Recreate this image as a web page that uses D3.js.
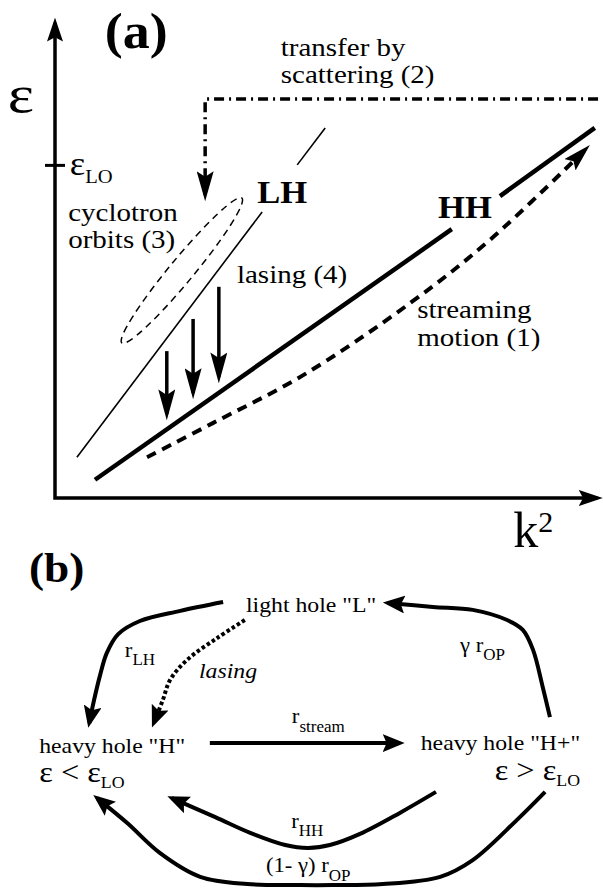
<!DOCTYPE html>
<html>
<head>
<meta charset="utf-8">
<script src="https://cdn.jsdelivr.net/npm/d3@7"></script>
<style>
  html, body { margin: 0; padding: 0; background: #fff; }
  svg { display: block; }
</style>
</head>
<body>
<svg id="canvas"></svg>
<script>
// (a) sketch of the bands, k^2 along x and energy along y, both in arbitrary units 0..10
const lightHole = [[[0.40, 0.85], [3.78, 5.96]], [[4.42, 6.94], [4.93, 7.71]]];
const heavyHole = [[[0.73, 0.38], [7.24, 5.60]], [[8.12, 6.29], [9.85, 7.71]]];
const streaming = [[1.68, 0.85], [2.88, 1.56], [4.53, 2.56], [6.48, 4.06], [7.94, 5.38], [9.67, 7.25]];
const scattering = [[9.91, 8.31], [2.74, 8.31], [2.74, 6.31]];
const lasingDrops = [[2.04, 3.06, 1.75], [2.52, 3.73, 2.19], [2.99, 4.40, 2.52]]; // k, from, to
const orbit = [[1.22, 3.23], [3.41, 6.25]];
const epsLO = 6.94;

// (b) rate diagram, grid units 0..10 both ways
const rLH = [[3.70, 1.28], [2.99, 1.55], [2.32, 1.86], [1.96, 2.26], [1.77, 2.84], [1.66, 3.51], [1.56, 4.27], [1.48, 4.97]];
const rLasing = [[4.06, 1.83], [3.60, 2.38], [3.10, 3.05], [2.82, 3.66], [2.70, 4.27], [2.55, 4.97]];
const rStream = [[3.48, 5.58], [6.63, 5.58]];
const rOPup = [[9.12, 4.79], [9.00, 3.87], [8.84, 2.74], [8.67, 2.13], [8.41, 1.83], [7.84, 1.52], [7.18, 1.43], [6.43, 1.31]];
const rHH = [[7.23, 7.07], [6.63, 7.71], [5.97, 8.35], [5.47, 8.69], [5.11, 8.78], [4.73, 8.69], [4.15, 8.32], [3.57, 7.84], [2.85, 7.26]];
const rOPdown = [[9.04, 7.07], [8.57, 7.93], [7.84, 9.15], [7.30, 9.66], [6.35, 9.88], [5.52, 9.91], [4.98, 9.91], [4.10, 9.88], [3.32, 9.66], [2.65, 8.93], [2.11, 8.02], [1.61, 7.26]];

const W = 603, H = 888;
const FONT = '"Liberation Serif", "Times New Roman", Times, serif';
const svg = d3.select('#canvas').attr('width', W).attr('height', H);

const x = d3.scaleLinear().domain([0, 10]).range([55, 603]);
const y = d3.scaleLinear().domain([0, 10]).range([498, 18]);
const bx = d3.scaleLinear().domain([0, 10]).range([0, 603]);
const by = d3.scaleLinear().domain([0, 10]).range([560, 888]);

const defs = svg.append('defs');
function arrowHead(id, len, half, sw) {
  const ext = (sw / 2) * len / half;
  defs.append('marker')
    .attr('id', id)
    .attr('markerUnits', 'userSpaceOnUse')
    .attr('viewBox', `0 ${-half} ${len} ${2 * half}`)
    .attr('markerWidth', len)
    .attr('markerHeight', 2 * half)
    .attr('refX', len - ext)
    .attr('refY', 0)
    .attr('orient', 'auto-start-reverse')
    .append('path')
    .attr('d', `M0,${-half}L${len},0L0,${half}L${len * 0.18},0Z`)
    .attr('fill', '#000');
}
arrowHead('axisHead', 24, 8, 3.5);
arrowHead('dropHead', 31, 8.5, 3.5);
arrowHead('scatterHead', 30, 8.5, 3.5);
arrowHead('streamHead', 28, 8, 4);
arrowHead('bHead', 22, 9, 4);

function label(px, py, runs, size, o = {}) {
  const t = svg.append('text')
    .attr('transform', `translate(${px},${py}) scale(${o.sx || 1.08},1)`)
    .attr('font-family', FONT)
    .style('font-family', FONT)
    .style('white-space', 'pre')
    .attr('fill', '#000')
    .attr('font-size', size)
    .attr('text-anchor', o.anchor || 'start')
    .attr('font-weight', o.bold ? 'bold' : null)
    .attr('font-style', o.italic ? 'italic' : null);
  let cur = 0;
  runs.forEach(r => {
    const [str, off = 0, k = 1] = typeof r === 'string' ? [r] : r;
    t.append('tspan')
      .attr('dy', off - cur)
      .attr('font-size', size * k)
      .text(str);
    cur = off;
  });
  return t;
}

const lineA = d3.line().x(d => x(d[0])).y(d => y(d[1]));
const curveA = d3.line().x(d => x(d[0])).y(d => y(d[1])).curve(d3.curveCatmullRom);
const curveB = d3.line().x(d => bx(d[0])).y(d => by(d[1])).curve(d3.curveCatmullRom);

// ---------- panel (a) ----------
svg.append('path')
  .attr('d', lineA([[0, 9.9], [0, 0], [9.9, 0]]))
  .attr('fill', 'none').attr('stroke', '#000').attr('stroke-width', 3.5)
  .attr('marker-start', 'url(#axisHead)').attr('marker-end', 'url(#axisHead)');

svg.append('g')
  .attr('transform', `translate(${x(0) + 10},0)`)
  .call(d3.axisLeft(y).tickValues([epsLO]).tickSize(20).tickFormat(''))
  .call(g => g.select('.domain').remove())
  .selectAll('line').attr('stroke', '#000').attr('stroke-width', 3);

svg.append('g').selectAll('path').data(lightHole).join('path')
  .attr('d', lineA).attr('fill', 'none').attr('stroke', '#000').attr('stroke-width', 1.6);

svg.append('g').selectAll('path').data(heavyHole).join('path')
  .attr('d', lineA).attr('fill', 'none').attr('stroke', '#000').attr('stroke-width', 4.5);

svg.append('path')
  .attr('d', curveA(streaming))
  .attr('fill', 'none').attr('stroke', '#000').attr('stroke-width', 4)
  .attr('stroke-dasharray', '10,7')
  .attr('marker-end', 'url(#streamHead)');

svg.append('path')
  .attr('d', lineA(scattering))
  .attr('fill', 'none').attr('stroke', '#000').attr('stroke-width', 3.5)
  .attr('stroke-dasharray', '10,5,2,5')
  .attr('marker-end', 'url(#scatterHead)');

svg.append('g').selectAll('path').data(lasingDrops).join('path')
  .attr('d', d => lineA([[d[0], d[1]], [d[0], d[2]]]))
  .attr('stroke', '#000').attr('stroke-width', 3.5)
  .attr('marker-end', 'url(#dropHead)');

{
  const p1 = [x(orbit[0][0]), y(orbit[0][1])];
  const p2 = [x(orbit[1][0]), y(orbit[1][1])];
  const ang = Math.atan2(p2[1] - p1[1], p2[0] - p1[0]) * 180 / Math.PI;
  svg.append('ellipse')
    .attr('transform', `translate(${(p1[0] + p2[0]) / 2},${(p1[1] + p2[1]) / 2}) rotate(${ang})`)
    .attr('rx', Math.hypot(p2[0] - p1[0], p2[1] - p1[1]) / 2)
    .attr('ry', 12)
    .attr('fill', 'none').attr('stroke', '#000').attr('stroke-width', 1.5)
    .attr('stroke-dasharray', '7,5');
}

label(x(0.91), y(9.375), ['(a)'], 50, { bold: true });
label(x(-0.86), y(8.04), ['ε'], 52, { sx: 1.2 });
label(x(0.27), y(6.73), ['ε', ['LO', 8, 0.56]], 34);
label(x(4.12), y(9.21), ['transfer by'], 25, { sx: 1.16 });
label(x(4.12), y(8.65), ['scattering (2)'], 25, { sx: 1.16 });
label(x(0.24), y(5.77), ['cyclotron'], 25, { sx: 1.16 });
label(x(0.24), y(5.21), ['orbits (3)'], 25, { sx: 1.16 });
label(x(3.69), y(6.15), ['LH'], 32, { bold: true });
label(x(6.99), y(5.83), ['HH'], 32, { bold: true });
label(x(3.32), y(4.48), ['lasing (4)'], 25, { sx: 1.16 });
label(x(6.61), y(3.75), ['streaming'], 25, { sx: 1.16 });
label(x(6.61), y(3.17), ['motion (1)'], 25, { sx: 1.16 });
label(x(8.36), y(-1.02), ['k', ['2', -15, 0.6]], 50, { sx: 1 });

// ---------- panel (b) ----------
[rLH, rOPup, rHH, rOPdown].forEach(pts => {
  svg.append('path')
    .attr('d', curveB(pts))
    .attr('fill', 'none').attr('stroke', '#000').attr('stroke-width', 4)
    .attr('marker-end', 'url(#bHead)');
});
svg.append('path')
  .attr('d', curveB(rLasing))
  .attr('fill', 'none').attr('stroke', '#000').attr('stroke-width', 4)
  .attr('stroke-dasharray', '3.5,2.5')
  .attr('marker-end', 'url(#bHead)');
svg.append('path')
  .attr('d', curveB(rStream))
  .attr('fill', 'none').attr('stroke', '#000').attr('stroke-width', 4)
  .attr('marker-end', 'url(#bHead)');

label(bx(0.48), by(0.67), ['(b)'], 42, { bold: true });
label(bx(4.08), by(1.59), ['light hole "L"'], 22);
label(bx(0.65), by(5.88), ['heavy hole "H"'], 22);
label(bx(0.65), by(6.77), ['ε < ε', ['LO', 6, 0.55]], 30);
label(bx(9.62), by(5.79), ['heavy hole "H+"'], 22, { anchor: 'end' });
label(bx(9.62), by(6.71), ['ε > ε', ['LO', 6, 0.55]], 30, { anchor: 'end' });
label(bx(2.07), by(2.96), ['r', ['LH', 8, 0.75]], 21);
label(bx(3.30), by(3.60), ['lasing'], 22, { italic: true });
label(bx(4.84), by(4.97), ['r', ['stream', 9, 0.75]], 21);
label(bx(7.63), by(2.80), ['γ r', ['OP', 8, 0.75]], 21);
label(bx(4.83), by(8.17), ['r', ['HH', 8, 0.75]], 21);
label(bx(4.41), by(9.51), ['(1- γ) r', ['OP', 9, 0.75]], 21);
</script>
</body>
</html>
